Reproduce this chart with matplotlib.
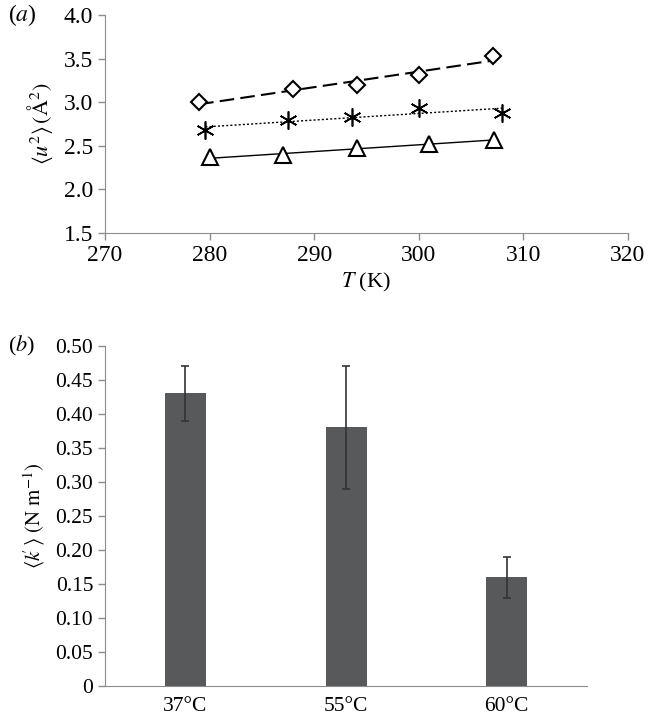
import numpy as np
import matplotlib
matplotlib.use("Agg")
import matplotlib.pyplot as plt

plt.rcParams['font.family'] = ['Liberation Serif', 'DejaVu Serif']
plt.rcParams['mathtext.fontset'] = 'stix'

# panel (a): <u^2> vs temperature, three series
t_diamond = [279.0, 288.0, 294.1, 300.0, 307.1]
u_diamond = [3.00, 3.15, 3.20, 3.31, 3.53]
t_star = [279.6, 287.5, 293.6, 300.0, 308.0]
u_star = [2.68, 2.80, 2.83, 2.93, 2.88]
t_tri = [280.0, 287.0, 294.1, 301.0, 307.2]
u_tri = [2.37, 2.39, 2.47, 2.52, 2.57]

# panel (b): <k'> bars
categories = ['37°C', '55°C', '60°C']
k_values = [0.43, 0.38, 0.16]
k_errors = [0.04, 0.09, 0.03]

axis_grey = '#8c8c8c'
bar_grey = '#58595b'

fig = plt.figure(figsize=(6.48, 7.19), dpi=100)
ax1 = fig.add_axes([0.162, 0.676, 0.807, 0.303])
ax2 = fig.add_axes([0.162, 0.046, 0.744, 0.473])


def trend(ax, t, u, style, lw):
	# linear trendline over the data range
	p = np.polyfit(t, u, 1)
	xs = np.array([min(t), max(t)])
	ax.plot(xs, np.polyval(p, xs), color='black', linestyle=style, linewidth=lw, zorder=2)


trend(ax1, t_diamond, u_diamond, (0, (7, 3)), 1.5)
trend(ax1, t_star, u_star, (0, (1.5, 1.5)), 1.0)
trend(ax1, t_tri, u_tri, '-', 1.0)

ax1.plot(t_diamond, u_diamond, linestyle='none', marker='D', markersize=8.5,
	markerfacecolor='white', markeredgecolor='black', markeredgewidth=1.5, zorder=3)
ax1.plot(t_star, u_star, linestyle='none', marker=(6, 2, 0), markersize=13,
	color='black', markeredgewidth=1.2, zorder=3)
ax1.plot(t_tri, u_tri, linestyle='none', marker='^', markersize=11,
	markerfacecolor='white', markeredgecolor='black', markeredgewidth=1.5, zorder=3)

ax1.set_xlim(270, 320)
ax1.set_ylim(1.5, 4.0)
ax1.set_xticks(np.arange(270, 321, 10))
ax1.set_yticks(np.arange(1.5, 4.01, 0.5))
ax1.set_yticklabels(['%.1f' % v for v in np.arange(1.5, 4.01, 0.5)])
ax1.set_xlabel(r'$T$ (K)', fontsize=16, labelpad=4)
ax1.set_ylabel(r'$\langle u^2\rangle\,(\mathrm{\AA}^2)$', fontsize=16, labelpad=6)

# panel (b)
xpos = np.arange(len(categories))
ax2.bar(xpos, k_values, width=0.255, color=bar_grey, zorder=2)
ax2.errorbar(xpos, k_values, yerr=k_errors, fmt='none', ecolor='#333333',
	elinewidth=1.2, capsize=3, capthick=1.2, zorder=3)
ax2.set_xlim(-0.5, 2.5)
ax2.set_ylim(0, 0.5)
ax2.set_xticks(xpos)
ax2.set_xticklabels(categories)
yt = np.arange(0, 0.501, 0.05)
ax2.set_yticks(yt)
ax2.set_yticklabels(['0'] + ['%.2f' % v for v in yt[1:]])
ax2.set_ylabel(r"$\langle k\!'\,\rangle\ (\mathrm{N\ m}^{-1})$", fontsize=15, labelpad=6)

for ax in (ax1, ax2):
	ax.spines['top'].set_visible(False)
	ax.spines['right'].set_visible(False)
	ax.spines['left'].set_color(axis_grey)
	ax.spines['bottom'].set_color(axis_grey)
	ax.tick_params(axis='both', color=axis_grey, length=5, width=1, direction='out')
ax1.tick_params(axis='both', labelsize=17)
ax2.tick_params(axis='both', labelsize=15.5)
ax2.tick_params(axis='x', length=0, pad=8)

fig.text(0.012, 0.979, r'($a$)', fontsize=17, va='center', ha='left')
fig.text(0.012, 0.519, r'($b$)', fontsize=16, va='center', ha='left')

fig.savefig('out.png', dpi=100)
